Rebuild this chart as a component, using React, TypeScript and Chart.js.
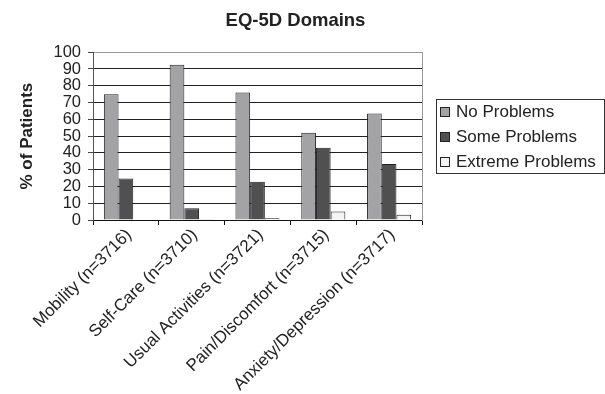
import React, { useEffect, useRef } from "react";
import { Chart, registerables } from "chart.js";

Chart.register(...registerables);

const categories = [
  "Mobility (n=3716)",
  "Self-Care (n=3710)",
  "Usual Activities (n=3721)",
  "Pain/Discomfort (n=3715)",
  "Anxiety/Depression (n=3717)",
];
const seriesNames = ["No Problems", "Some Problems", "Extreme Problems"];
const noProblems = [75, 92.5, 76, 52, 63.5];
const someProblems = [24.8, 7, 22.8, 43, 33.3];
const extremeProblems = [0.3, 0.4, 1, 5, 3.2];
const seriesColors = ["#a3a3a6", "#505050", "#f4f4f4"];

const FONT = "'Liberation Sans', Arial, sans-serif";

const legendPlugin = {
  id: "boxLegend",
  afterDraw(chart: any) {
    const { ctx, chartArea } = chart;
    const left = chartArea.right + 14;
    const right = 604;
    const midY = (chartArea.top + chartArea.bottom) / 2;
    const spacing = 25;
    const n = chart.data.datasets.length;
    const top = midY - 37;
    const bottom = midY + 37;
    ctx.save();
    ctx.strokeStyle = "#333";
    ctx.lineWidth = 1;
    ctx.strokeRect(Math.round(left) + 0.5, Math.round(top) + 0.5, right - Math.round(left), Math.round(bottom - top));
    ctx.font = `17px ${FONT}`;
    ctx.textBaseline = "middle";
    ctx.textAlign = "left";
    chart.data.datasets.forEach((ds: any, i: number) => {
      const cy = midY + (i - (n - 1) / 2) * spacing;
      const bx = Math.round(left) + 4;
      const by = Math.round(cy - 4.5);
      ctx.fillStyle = ds.backgroundColor;
      ctx.fillRect(bx + 0.5, by + 0.5, 9, 9);
      ctx.strokeStyle = "#222";
      ctx.strokeRect(bx + 0.5, by + 0.5, 9, 9);
      ctx.fillStyle = "#222";
      ctx.fillText(ds.label, Math.round(left) + 20, cy + 1);
    });
    ctx.restore();
  },
};

export default function App() {
  const ref = useRef<HTMLCanvasElement>(null);
  useEffect(() => {
    document.body.style.margin = "0";
    const seriesValues = [noProblems, someProblems, extremeProblems];
    const chart = new Chart(ref.current!, {
      type: "bar",
      data: {
        labels: categories,
        datasets: seriesNames.map((name, i) => ({
          label: name,
          data: seriesValues[i],
          backgroundColor: seriesColors[i],
          borderColor: "#222",
          borderWidth: 1,
          categoryPercentage: 0.67,
          barPercentage: 1,
          yAxisID: "y",
        })),
      },
      options: {
        animation: false,
        responsive: false,
        devicePixelRatio: 1,
        layout: { padding: { left: 0, right: 14, top: 0, bottom: 0 } },
        plugins: {
          legend: { display: false },
          tooltip: { enabled: false },
          title: {
            display: true,
            text: "EQ-5D Domains",
            color: "#222",
            font: { family: FONT, size: 18.5, weight: "bold" },
            padding: { top: 10, bottom: 20 },
          },
        },
        scales: {
          x: {
            grid: {
              display: true,
              drawOnChartArea: false,
              drawTicks: true,
              tickLength: 5,
              color: "#111",
              offset: true,
            },
            border: { display: true, color: "#111", width: 1 },
            ticks: {
              minRotation: 45,
              maxRotation: 45,
              autoSkip: false,
              color: "#222",
              padding: 0,
              labelOffset: 3,
              font: { family: FONT, size: 17 },
            },
            afterFit: (s: any) => {
              s.height = 174;
            },
          },
          y: {
            min: 0,
            max: 100,
            ticks: {
              stepSize: 10,
              autoSkip: false,
              maxTicksLimit: 11,
              color: "#222",
              padding: 7,
              font: { family: FONT, size: 16.5, lineHeight: 1 },
            },
            grid: {
              color: (c: any) => (c.tick && c.tick.value === 100 ? "#999" : "#222"),
              tickColor: "#444",
              tickLength: 5,
            },
            border: { display: true, color: "#555", width: 1 },
            title: {
              display: true,
              text: "% of Patients",
              color: "#222",
              font: { family: FONT, size: 17, weight: "bold" },
              padding: { top: 17, bottom: 0 },
            },
            afterFit: (s: any) => {
              s.width = 93;
            },
          },
          y2: {
            position: "right",
            display: true,
            grid: { display: false, drawOnChartArea: false, drawTicks: false },
            ticks: { display: false },
            border: { display: true, color: "#999", width: 1 },
            afterFit: (s: any) => {
              s.width = 169;
            },
          },
        },
      },
      plugins: [legendPlugin],
    } as any);
    return () => chart.destroy();
  }, []);
  return (
    <div style={{ position: "absolute", left: 0, top: 0, width: 605, height: 394 }}>
      <canvas ref={ref} width={605} height={394} />
    </div>
  );
}
